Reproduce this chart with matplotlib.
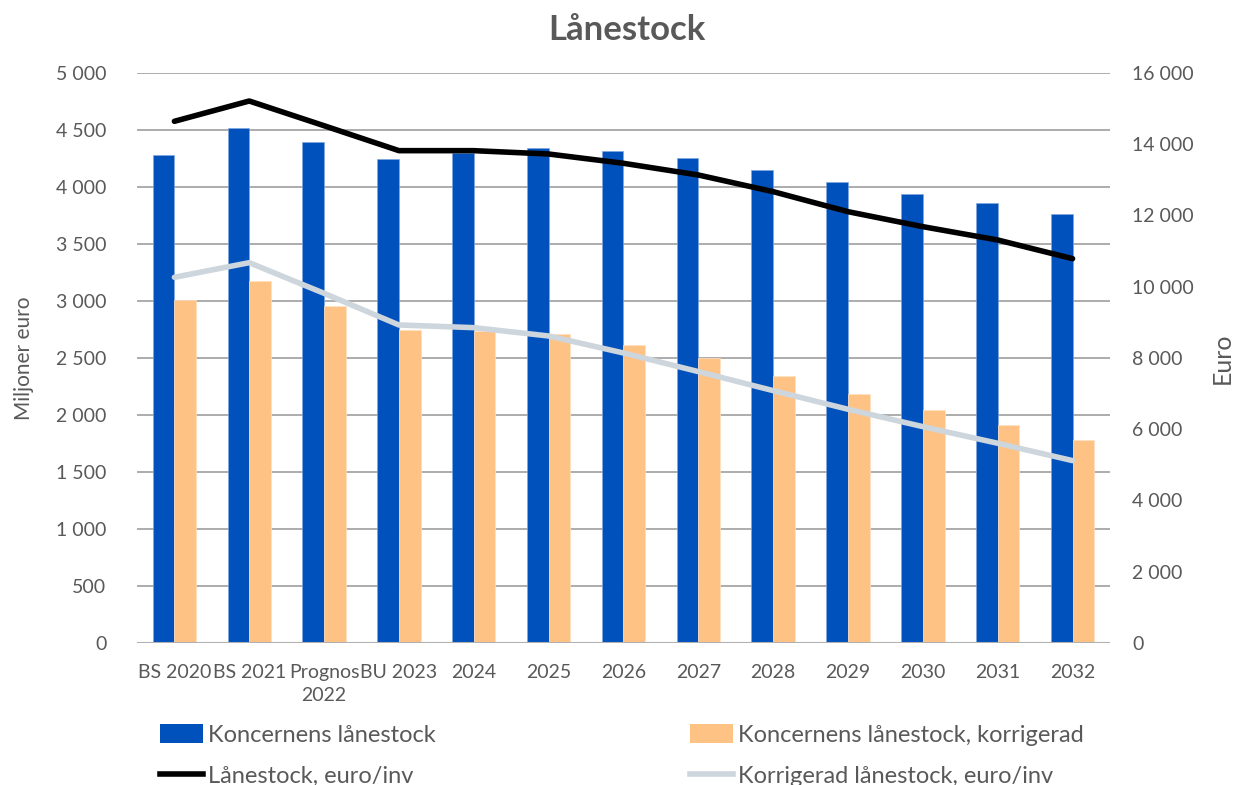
import matplotlib
matplotlib.use("Agg")
import matplotlib.pyplot as plt
import numpy as np
from matplotlib.patches import Patch
from matplotlib.lines import Line2D
from matplotlib.ticker import FuncFormatter, MultipleLocator

categories = ["BS 2020", "BS 2021", "Prognos\n2022", "BU 2023", "2024", "2025", "2026",
              "2027", "2028", "2029", "2030", "2031", "2032"]
koncern = [4285, 4518, 4392, 4243, 4300, 4342, 4313, 4254, 4152, 4041, 3941, 3857, 3763]
koncern_korr = [3006, 3173, 2956, 2748, 2737, 2713, 2617, 2500, 2344, 2185, 2041, 1912, 1782]
euro_inv = [14644, 15214, 14520, 13820, 13820, 13726, 13465, 13137, 12669, 12107, 11686, 11312, 10788]
euro_inv_korr = [10265, 10675, 9815, 8926, 8851, 8617, 8140, 7617, 7083, 6559, 6072, 5605, 5118]

BLUE = "#0051BC"
ORANGE = "#FFC285"
BLACK = "#000000"
LGREY = "#CDD5DD"
TXT = "#595959"
GRID = "#A6A6A6"

plt.rcParams['font.family'] = ['Lato', 'DejaVu Sans']

fig = plt.figure(figsize=(12.34, 7.85), dpi=100)
ax = fig.add_axes([0.111, 0.181, 0.7885, 0.726])
ax2 = ax.twinx()

x = np.arange(len(categories))
w = 0.29
ax.bar(x - w / 2, koncern, w, color=BLUE, edgecolor="#7FA6DE", linewidth=0.5, zorder=2)
ax.bar(x + w / 2, koncern_korr, w, color=ORANGE, edgecolor="#FFE0C0", linewidth=0.5, zorder=2)

ax2.plot(x, euro_inv, color=BLACK, lw=4, solid_capstyle='round', zorder=3)
ax2.plot(x, euro_inv_korr, color=LGREY, lw=4, solid_capstyle='round', zorder=3)

ax.set_xlim(-0.5, len(categories) - 0.5)
ax.set_ylim(0, 5000)
ax2.set_ylim(0, 16000)
ax.yaxis.set_major_locator(MultipleLocator(500))
ax2.yaxis.set_major_locator(MultipleLocator(2000))
fmt = FuncFormatter(lambda v, p: f"{int(v):,}".replace(",", " "))
ax.yaxis.set_major_formatter(fmt)
ax2.yaxis.set_major_formatter(fmt)

ax.grid(axis='y', color=GRID, lw=1.3, zorder=0)
ax.set_axisbelow(True)
for a in (ax, ax2):
    for s in ("top", "left", "right", "bottom"):
        a.spines[s].set_visible(False)
ax.axhline(0, color="#B0B0B0", lw=1.5, zorder=4)

ax.set_xticks(x)
ax.set_xticklabels(categories, fontsize=14, color=TXT, linespacing=1.45)
ax.tick_params(axis='x', length=0, pad=15)
ax.tick_params(axis='y', length=0, labelsize=14, labelcolor=TXT, pad=22)
ax2.tick_params(axis='y', length=0, labelsize=14, labelcolor=TXT, pad=16)
ax2.yaxis.set_label_position("right")

ax.set_ylabel("Miljoner euro", fontsize=15, color=TXT, labelpad=16)
ax2.set_ylabel("Euro", fontsize=18, color=TXT, labelpad=12)

fig.text(0.508, 0.962, "Lånestock", ha="center", va="center", fontsize=25,
         fontweight="bold", color=TXT)

h1 = [Patch(facecolor=BLUE), Line2D([0], [0], color=BLACK, lw=4)]
l1 = ["Koncernens lånestock", "Lånestock, euro/inv"]
h2 = [Patch(facecolor=ORANGE), Line2D([0], [0], color=LGREY, lw=4)]
l2 = ["Koncernens lånestock, korrigerad", "Korrigerad lånestock, euro/inv"]
common = dict(frameon=False, fontsize=17, labelcolor=TXT, handlelength=1.82,
              handleheight=0.85, handletextpad=0.2, labelspacing=0.82, borderaxespad=0,
              borderpad=0)
fig.legend(h1, l1, loc="upper left", bbox_to_anchor=(160 / 1234, 1 - 724 / 785), **common)
fig.legend(h2, l2, loc="upper left", bbox_to_anchor=(690 / 1234, 1 - 724 / 785), **common)

fig.savefig("out.png", dpi=100)
